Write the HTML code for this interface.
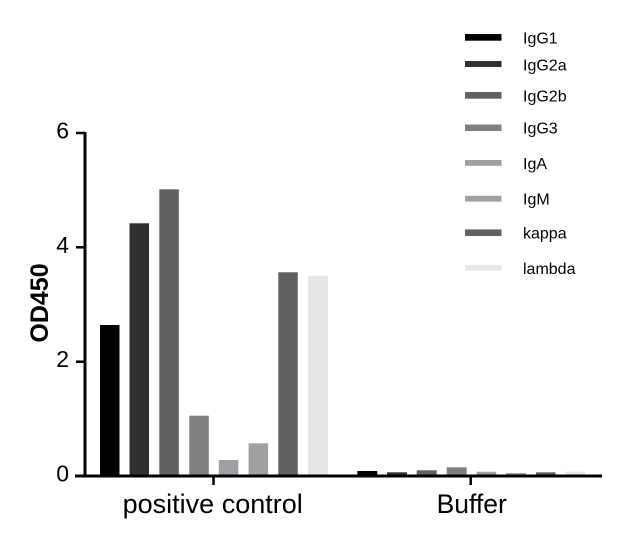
<!DOCTYPE html>
<html>
<head>
<meta charset="utf-8">
<style>
html,body{margin:0;padding:0;background:#fff;}
svg{display:block;}
text{font-family:"Liberation Sans",Arial,sans-serif;fill:#000;}
</style>
</head>
<body>
<svg width="624" height="543" viewBox="0 0 624 543" xmlns="http://www.w3.org/2000/svg">
  <!-- bars: positive control -->
  <rect x="100" y="325" width="19.5" height="151" fill="#000000"/>
  <rect x="129.5" y="223.3" width="19.5" height="252.7" fill="#303030"/>
  <rect x="159.3" y="189.3" width="19.5" height="286.7" fill="#606060"/>
  <rect x="189.3" y="415.7" width="19.5" height="60.3" fill="#808080"/>
  <rect x="218.8" y="460" width="19.5" height="16" fill="#a0a0a4"/>
  <rect x="248.6" y="443.3" width="19.5" height="32.7" fill="#a0a0a0"/>
  <rect x="278.3" y="272.3" width="19.5" height="203.7" fill="#606060"/>
  <rect x="308" y="275.7" width="20" height="200.3" fill="#e6e6e6"/>
  <!-- bars: buffer -->
  <rect x="357.3" y="471" width="20" height="5" fill="#000000"/>
  <rect x="387" y="472.3" width="20" height="3.7" fill="#303030"/>
  <rect x="416.7" y="470.3" width="20" height="5.7" fill="#606060"/>
  <rect x="446.7" y="467.3" width="20" height="8.7" fill="#808080"/>
  <rect x="476.7" y="471.7" width="19.5" height="4.3" fill="#a0a0a4"/>
  <rect x="506" y="473" width="20" height="3" fill="#a0a0a0"/>
  <rect x="536" y="472.3" width="19.5" height="3.7" fill="#606060"/>
  <rect x="565" y="471.7" width="20" height="4.3" fill="#e6e6e6"/>

  <!-- axes -->
  <line x1="85" y1="132" x2="85" y2="477.5" stroke="#000" stroke-width="3"/>
  <line x1="75" y1="476" x2="602" y2="476" stroke="#000" stroke-width="3"/>
  <!-- y ticks -->
  <line x1="76" y1="133" x2="85" y2="133" stroke="#000" stroke-width="2.5"/>
  <line x1="76" y1="247.3" x2="85" y2="247.3" stroke="#000" stroke-width="2.5"/>
  <line x1="76" y1="361.7" x2="85" y2="361.7" stroke="#000" stroke-width="2.5"/>
  <!-- x ticks -->
  <line x1="213.5" y1="476" x2="213.5" y2="485" stroke="#000" stroke-width="2.5"/>
  <line x1="470.7" y1="476" x2="470.7" y2="485" stroke="#000" stroke-width="2.5"/>

  <!-- y tick labels -->
  <text x="69" y="138.5" font-size="23" text-anchor="end">6</text>
  <text x="69" y="252.8" font-size="23" text-anchor="end">4</text>
  <text x="69" y="367.2" font-size="23" text-anchor="end">2</text>
  <text x="69" y="481.5" font-size="23" text-anchor="end">0</text>

  <!-- y axis title -->
  <text transform="translate(48,303) rotate(-90)" font-size="25" font-weight="bold" text-anchor="middle">OD450</text>

  <!-- x labels -->
  <text x="212.7" y="513" font-size="27" text-anchor="middle">positive control</text>
  <text x="471.7" y="513" font-size="26.5" text-anchor="middle">Buffer</text>

  <!-- legend -->
  <rect x="465" y="34" width="36.5" height="6.7" fill="#000000"/>
  <rect x="465" y="61" width="36.5" height="6" fill="#303030"/>
  <rect x="465" y="92" width="36.5" height="6.7" fill="#606060"/>
  <rect x="465" y="124.5" width="36.5" height="6.5" fill="#808080"/>
  <rect x="465" y="160" width="36.5" height="5.8" fill="#a0a0a4"/>
  <rect x="465" y="195.8" width="36.5" height="5.8" fill="#a0a0a0"/>
  <rect x="465" y="229.4" width="36.5" height="6.6" fill="#606060"/>
  <rect x="465" y="265" width="36.5" height="5.7" fill="#e6e6e6"/>

  <text x="523" y="43.5" font-size="16">IgG1</text>
  <text x="523" y="70.5" font-size="16">IgG2a</text>
  <text x="523" y="101.5" font-size="16">IgG2b</text>
  <text x="523" y="133.5" font-size="16">IgG3</text>
  <text x="523" y="169" font-size="16">IgA</text>
  <text x="523" y="204.5" font-size="16">IgM</text>
  <text x="523" y="238.5" font-size="16">kappa</text>
  <text x="523" y="274" font-size="16">lambda</text>
</svg>
</body>
</html>
